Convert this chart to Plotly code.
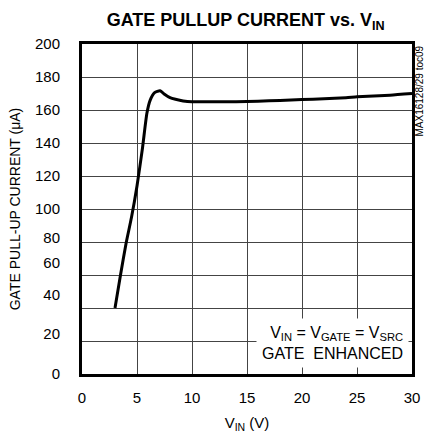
import plotly.graph_objects as go

# Data
V_IN = [3.0, 3.5, 4.0, 4.5, 5.0, 5.5, 5.9, 6.2, 6.6, 7.1, 7.5, 8.0, 8.5, 9.2, 10, 12, 14, 16, 18, 20, 22, 24, 25, 26, 28, 30]
I_PULLUP = [40, 60, 79, 95, 114, 137, 158, 166, 170.5, 171.7, 169.5, 167.5, 166.5, 165.5, 165, 165, 165, 165.3, 165.8, 166.3, 166.8, 167.5, 168, 168.3, 169, 170]

X_TICKS = [0, 5, 10, 15, 20, 25, 30]
Y_GRID = [0, 20, 40, 60, 80, 100, 120, 140, 160, 180, 200]
Y_TICK_TEXT = ["0", "20", "40", "60", "80", "100", "120", "140", "160", "180", "200"]
Y_TICK_POS = [0, 24.2, 47.9, 67.3, 82.4, 100, 120, 140, 160, 180, 200]

FONT = "Liberation Sans, Arial, sans-serif"

fig = go.Figure()
fig.add_trace(go.Scatter(x=V_IN, y=I_PULLUP, mode="lines",
                         line=dict(color="black", width=3, shape="spline", smoothing=0.6),
                         hoverinfo="skip", showlegend=False))

fig.update_layout(
    width=425, height=439,
    margin=dict(l=82, r=13, t=44, b=65),
    paper_bgcolor="white", plot_bgcolor="white",
    font=dict(family=FONT, color="black", size=14),
    title=dict(text="<b>GATE PULLUP CURRENT vs. V<sub>IN</sub></b>",
               x=0.578, xanchor="center", y=0.955, yanchor="middle",
               font=dict(size=18, family=FONT)),
    showlegend=False,
)

fig.update_xaxes(range=[0, 30], tickmode="array", tickvals=X_TICKS,
                 ticks="outside", ticklen=8, tickcolor="rgba(0,0,0,0)",
                 showgrid=True, gridcolor="#444", gridwidth=1,
                 zeroline=False, showline=True, linecolor="black", linewidth=3, mirror=True,
                 automargin=False,
                 tickfont=dict(size=15),
                 title=dict(text="V<sub>IN</sub> (V)", font=dict(size=15), standoff=13))
fig.update_yaxes(range=[0, 200], tickmode="array", tickvals=Y_TICK_POS, ticktext=Y_TICK_TEXT,
                 ticks="outside", ticklen=16, tickcolor="rgba(0,0,0,0)",
                 showgrid=False, zeroline=False,
                 minor=dict(tickmode="array", tickvals=Y_GRID, showgrid=True, gridcolor="#444", gridwidth=1, ticks=""),
                 showline=True, linecolor="black", linewidth=3, mirror=True,
                 automargin=False,
                 tickfont=dict(size=15),
                 title=dict(text="GATE PULL-UP CURRENT (\u03bcA)", font=dict(size=14), standoff=12))

# condition box
fig.add_annotation(xref="paper", yref="paper", x=0.99, y=0.018, xanchor="right", yanchor="bottom",
                   text="V<sub>IN</sub> = V<sub>GATE</sub> = V<sub>SRC</sub><br>GATE  ENHANCED",
                   align="right", showarrow=False, bgcolor="white", borderpad=5,
                   font=dict(size=16, family=FONT))

# side label
fig.add_annotation(xref="paper", yref="paper", x=1.0, y=1.0, xshift=7, xanchor="center", yanchor="top",
                   text="MAX16128/29 toc09", textangle=-90, showarrow=False,
                   font=dict(size=10, family=FONT))

fig.write_html("out.html", config={"displayModeBar": False},
               post_script="document.body.style.margin='0';")
